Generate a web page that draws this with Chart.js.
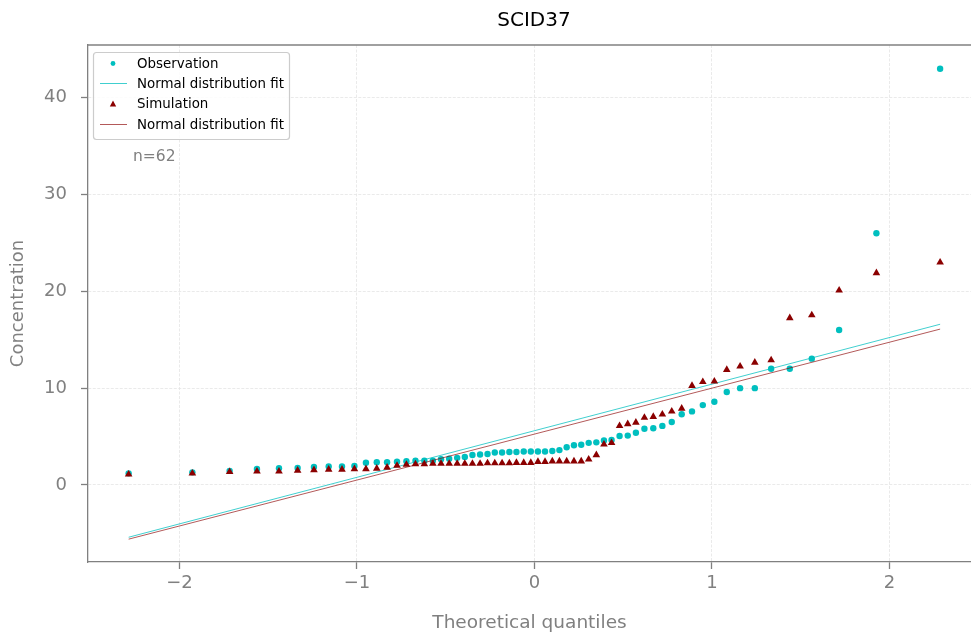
<!DOCTYPE html>
<html>
<head>
<meta charset="utf-8">
<title>SCID37</title>
<script src="https://cdn.jsdelivr.net/npm/chart.js@4.4.1/dist/chart.umd.min.js"></script>
<style>
  html, body { margin:0; padding:0; background:#fff; overflow:hidden; }
  #qqChart { display:block; }
</style>
</head>
<body>
<canvas id="qqChart" width="971" height="637"></canvas>
<script>
// theoretical quantiles for n=62
const quantiles = [-2.286, -1.927, -1.717, -1.563, -1.439, -1.334, -1.242, -1.159, -1.084, -1.014,
    -0.949, -0.888, -0.830, -0.774, -0.721, -0.670, -0.620, -0.572, -0.526, -0.480,
    -0.435, -0.392, -0.349, -0.306, -0.264, -0.223, -0.182, -0.141, -0.101, -0.060, -0.020,
    0.020, 0.060, 0.101, 0.141, 0.182, 0.223, 0.264, 0.306, 0.349, 0.392,
    0.435, 0.480, 0.526, 0.572, 0.620, 0.670, 0.721, 0.774, 0.830, 0.888,
    0.949, 1.014, 1.084, 1.159, 1.242, 1.334, 1.439, 1.563, 1.717, 1.927, 2.286];

// sorted values
const observation = [1.2, 1.3, 1.45, 1.65, 1.72, 1.75, 1.85, 1.9, 1.9, 1.95,
    2.3, 2.35, 2.35, 2.4, 2.45, 2.5, 2.5, 2.5, 2.65, 2.7,
    2.8, 2.9, 3.1, 3.15, 3.2, 3.35, 3.35, 3.4, 3.4, 3.45, 3.45,
    3.45, 3.45, 3.5, 3.6, 3.9, 4.1, 4.15, 4.35, 4.4, 4.6,
    4.65, 5.05, 5.1, 5.4, 5.8, 5.85, 6.1, 6.5, 7.3, 7.6,
    8.25, 8.6, 9.6, 10.0, 10.0, 12.0, 12.0, 13.05, 16.0, 26.0, 43.0];

const simulation = [1.1, 1.2, 1.35, 1.4, 1.4, 1.5, 1.55, 1.6, 1.6, 1.65,
    1.65, 1.7, 1.8, 2.0, 2.1, 2.15, 2.15, 2.2, 2.2, 2.2,
    2.2, 2.2, 2.2, 2.2, 2.25, 2.25, 2.25, 2.25, 2.3, 2.3, 2.3,
    2.4, 2.4, 2.45, 2.45, 2.45, 2.45, 2.45, 2.65, 3.1, 4.2,
    4.35, 6.1, 6.3, 6.45, 6.95, 7.05, 7.3, 7.6, 7.9, 10.25,
    10.65, 10.7, 11.9, 12.25, 12.65, 12.9, 17.25, 17.55, 20.1, 21.9, 23.0];

// fit line values at first and last quantile
const obsFitEnds = [-5.4, 16.6];
const simFitEnds = [-5.6, 16.1];

const xTicks = [-2, -1, 0, 1, 2];
const yTicks = [0, 10, 20, 30, 40];
const chartTitle = 'SCID37';
const sampleNote = 'n=62';

const FONT = "'DejaVu Sans', sans-serif";
const GREY = '#808080';
const CYAN = '#00bfbf';
const DARKRED = '#8b0000';

const toPoints = ys => ys.map((y, i) => ({x: quantiles[i], y: y}));
const fitLine = ends => [
    {x: quantiles[0], y: ends[0]},
    {x: quantiles[quantiles.length - 1], y: ends[1]}
];
const fmtTick = v => v < 0 ? '\u2212' + Math.abs(v) : String(v);

// title, top spine, legend box and note (matplotlib look)
const decorPlugin = {
    id: 'decor',
    afterDraw(chart){
        const ctx = chart.ctx;
        const a = chart.chartArea;
        ctx.save();

        ctx.strokeStyle = GREY;
        ctx.lineWidth = 1.3;
        ctx.beginPath();
        ctx.moveTo(a.left, a.top);
        ctx.lineTo(chart.width, a.top);
        ctx.stroke();

        ctx.fillStyle = '#000';
        ctx.font = '20px ' + FONT;
        ctx.textAlign = 'center';
        ctx.textBaseline = 'middle';
        ctx.fillText(chartTitle, 534, 21);

        // legend
        const lx = a.left + 5.5, ly = a.top + 7.5, lw = 196, lh = 87;
        ctx.beginPath();
        ctx.roundRect(lx, ly, lw, lh, 3);
        ctx.fillStyle = 'rgba(255,255,255,0.85)';
        ctx.fill();
        ctx.strokeStyle = '#cccccc';
        ctx.lineWidth = 1.2;
        ctx.stroke();

        const rows = [64.5, 84.5, 105, 125.5];
        const ds = chart.data.datasets;
        ctx.font = '13.4px ' + FONT;
        ctx.textAlign = 'left';
        ds.forEach((d, i) => {
            const y = rows[i];
            if (d.showLine) {
                ctx.strokeStyle = d.borderColor;
                ctx.lineWidth = 1;
                ctx.beginPath();
                ctx.moveTo(a.left + 12, y - 1);
                ctx.lineTo(a.left + 39, y - 1);
                ctx.stroke();
            } else {
                ctx.fillStyle = d.backgroundColor;
                ctx.beginPath();
                if (d.pointStyle === 'triangle') {
                    ctx.moveTo(a.left + 25, y - 4.6);
                    ctx.lineTo(a.left + 28.2, y + 1.6);
                    ctx.lineTo(a.left + 21.8, y + 1.6);
                    ctx.closePath();
                } else {
                    ctx.arc(a.left + 25, y - 1, 2.4, 0, Math.PI * 2);
                }
                ctx.fill();
            }
            ctx.fillStyle = '#000';
            ctx.fillText(d.label, a.left + 49, y);
        });

        ctx.fillStyle = GREY;
        ctx.font = '15.5px ' + FONT;
        ctx.fillText(sampleNote, a.left + 45, 156.5);
        ctx.restore();
    }
};

const ctx = document.getElementById('qqChart').getContext('2d');
const chart = new Chart(ctx, {
    type: 'scatter',
    data: {
        datasets: [
            {
                label: 'Observation',
                data: toPoints(observation),
                backgroundColor: CYAN,
                borderColor: CYAN,
                borderWidth: 0,
                pointStyle: 'circle',
                pointRadius: 3.2,
                order: 4
            },
            {
                label: 'Normal distribution fit',
                data: fitLine(obsFitEnds),
                showLine: true,
                borderColor: 'rgba(0,191,191,0.75)',
                borderWidth: 1,
                pointRadius: 0,
                order: 3
            },
            {
                label: 'Simulation',
                data: toPoints(simulation),
                backgroundColor: DARKRED,
                borderColor: DARKRED,
                borderWidth: 0,
                pointStyle: 'triangle',
                pointRadius: 4.4,
                order: 2
            },
            {
                label: 'Normal distribution fit',
                data: fitLine(simFitEnds),
                showLine: true,
                borderColor: 'rgba(139,0,0,0.65)',
                borderWidth: 1,
                pointRadius: 0,
                order: 1
            }
        ]
    },
    options: {
        responsive: false,
        maintainAspectRatio: false,
        devicePixelRatio: 1,
        animation: false,
        events: [],
        layout: { autoPadding: false, padding: { top: 45, left: 0, right: 0, bottom: 0 } },
        plugins: {
            legend: { display: false },
            title: { display: false },
            tooltip: { enabled: false }
        },
        scales: {
            x: {
                type: 'linear',
                min: -2.515,
                max: 2.46,
                afterBuildTicks: s => { s.ticks = xTicks.map(v => ({value: v})); },
                afterFit: s => { s.height = 75; s.paddingLeft = 0; s.paddingRight = 0; },
                ticks: {
                    color: GREY,
                    font: { family: FONT, size: 18 },
                    padding: 4,
                    maxRotation: 0,
                    callback: v => fmtTick(v)
                },
                grid: {
                    color: '#e4e4e4',
                    lineWidth: 0.8,
                    tickColor: GREY,
                    tickLength: 7,
                    tickWidth: 1.3
                },
                border: { color: GREY, width: 1.3, dash: [3, 1.5] },
                title: {
                    display: true,
                    text: 'Theoretical quantiles',
                    color: GREY,
                    font: { family: FONT, size: 18.5 },
                    padding: { top: 0, bottom: 3 }
                }
            },
            y: {
                type: 'linear',
                min: -7.96,
                max: 45.45,
                afterBuildTicks: s => { s.ticks = yTicks.map(v => ({value: v})); },
                afterFit: s => { s.width = 88; s.paddingTop = 0; s.paddingBottom = 0; },
                ticks: {
                    color: GREY,
                    font: { family: FONT, size: 18 },
                    padding: 14,
                    callback: v => fmtTick(v)
                },
                grid: {
                    color: '#e4e4e4',
                    lineWidth: 0.8,
                    tickColor: GREY,
                    tickLength: 7,
                    tickWidth: 1.3
                },
                border: { color: GREY, width: 1.3, dash: [3, 1.5] },
                title: {
                    display: true,
                    text: 'Concentration',
                    color: GREY,
                    font: { family: FONT, size: 18 },
                    padding: { top: 8, bottom: 0 }
                }
            }
        }
    },
    plugins: [decorPlugin]
});
</script>
</body>
</html>
